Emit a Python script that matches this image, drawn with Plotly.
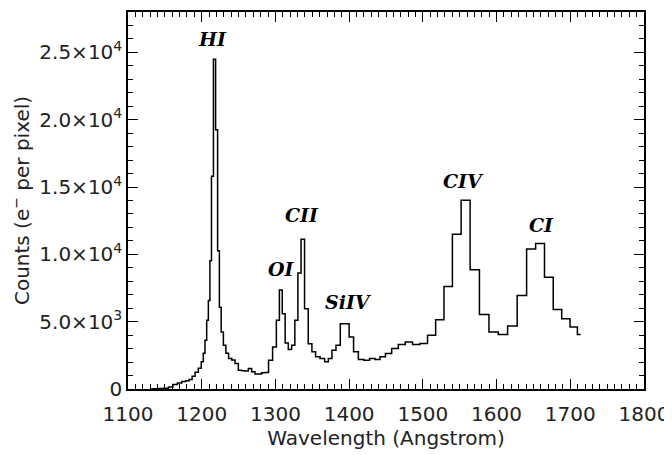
"""UV prism spectrum — step histogram with emission line labels."""

import plotly.graph_objects as go

# Bin centres (Angstrom) and counts
WAVELENGTH = [
    1130, 1138, 1145, 1152, 1158, 1164, 1170, 1176, 1181, 1185, 1189, 1193,
    1197.7, 1201, 1203.3, 1205.6, 1207.9, 1210.1, 1212.1, 1214.4, 1217.4,
    1220.3, 1222.8, 1225.1, 1227.7, 1231.1, 1234.5, 1238.5, 1243, 1247.4,
    1252, 1256.5, 1261, 1265.5, 1270, 1274.5, 1279, 1283.5, 1288, 1293.3,
    1299, 1303.5, 1307.3, 1311.2, 1315.2, 1319.7, 1324.3, 1328.4, 1332.5,
    1337, 1342, 1347, 1352, 1357, 1364, 1369.5, 1374, 1379.3, 1385, 1391,
    1397, 1403, 1409, 1416, 1423.7, 1431.7, 1438.5, 1445.3, 1453.2, 1462.2,
    1471.2, 1481, 1491, 1501, 1511.7, 1523, 1534.3, 1545.9, 1557.9, 1570.3,
    1583.2, 1596.1, 1608.5, 1621.4, 1634.5, 1647, 1659, 1671, 1682.7, 1694,
    1705.3, 1714,
]
COUNTS = [
    0, 10, 30, 60, 150, 330, 450, 560, 620, 700, 950, 1250,
    1550, 2020, 2660, 3620, 5100, 6570, 9530, 15800, 24500,
    19250, 10270, 6080, 4230, 3250, 2660, 2270, 2150, 1900,
    1400, 1350, 1330, 1530, 1280, 1110, 1110, 1200, 1220, 2140,
    3120, 5100, 7360, 5590, 3420, 2930, 3250, 5100, 8620,
    11130, 5960, 3370, 2760, 2390, 2270, 2020, 2270, 2880, 3250, 4850,
    4850, 3860, 2760, 2190, 2140, 2270, 2190, 2390, 2640, 3000,
    3300, 3500, 3300, 3380, 3990, 5150, 7610, 11500, 14010, 8860,
    5540, 4230, 4040, 4680, 6940, 10390, 10810, 8300, 5910, 5220,
    4600, 4040,
]

# Emission line labels
LINE_NAMES = ["HI", "OI", "CII", "SiIV", "CIV", "CI"]
LINE_X = [1215.3, 1308.9, 1336, 1398.5, 1554.5, 1660.3]
LINE_Y = [26000, 8940, 12925, 6425, 15440, 12190]

Y_TICKS = [0, 5000, 10000, 15000, 20000, 25000]
Y_TICK_TEXT = [
    "0", "5.0×10<sup>3</sup>", "1.0×10<sup>4</sup>", "1.5×10<sup>4</sup>",
    "2.0×10<sup>4</sup>", "2.5×10<sup>4</sup>",
]

TEXT_FONT = dict(family="DejaVu Sans", size=20, color="#222")

fig = go.Figure()
fig.add_trace(
    go.Scatter(
        x=WAVELENGTH,
        y=COUNTS,
        mode="lines",
        line=dict(color="black", width=1.5, shape="hvh"),
        showlegend=False,
        hoverinfo="x+y",
    )
)

for name, x, y in zip(LINE_NAMES, LINE_X, LINE_Y):
    fig.add_annotation(
        x=x, y=y, text=name, showarrow=False,
        font=dict(family="DejaVu Serif", size=19, color="black",
                  weight="bold", style="italic"),
    )

axis_common = dict(
    showline=True, linecolor="black", linewidth=1.5, mirror="allticks",
    ticks="inside", tickcolor="black", tickwidth=1, ticklen=10,
    showgrid=False, zeroline=False, tickfont=TEXT_FONT,
)

fig.update_xaxes(
    range=[1100, 1800], dtick=100, tick0=1100, ticklabelstandoff=6,
    minor=dict(dtick=10, ticks="inside", ticklen=5, tickcolor="black", showgrid=False),
    title=dict(text="Wavelength (Angstrom)", font=TEXT_FONT, standoff=2),
    **axis_common,
)
fig.update_yaxes(
    range=[0, 28000], tickvals=Y_TICKS, ticktext=Y_TICK_TEXT,
    minor=dict(dtick=1000, ticks="inside", ticklen=5, tickcolor="black", showgrid=False),
    title=dict(text="Counts (e<sup>−</sup> per pixel)", font=TEXT_FONT, standoff=4),
    **axis_common,
)

# the page adds an 8px body margin, so the figure is shifted accordingly
fig.update_layout(
    width=664, height=447,
    margin=dict(l=120, r=28, t=2, b=66),
    paper_bgcolor="white", plot_bgcolor="white",
)

fig.write_html("out.html")
